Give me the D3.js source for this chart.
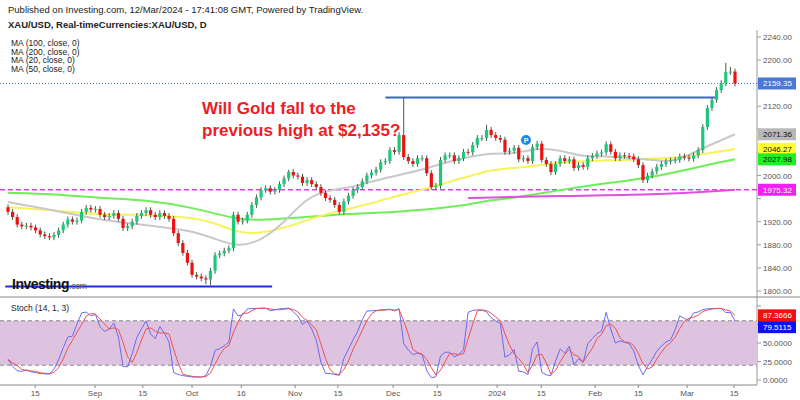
<!DOCTYPE html>
<html><head><meta charset="utf-8">
<script src="https://cdn.jsdelivr.net/npm/d3@7"></script>
<style>body{margin:0;background:#fff}svg{font-family:"Liberation Sans",Arial,sans-serif}</style>
</head><body><svg id="c" width="800" height="400"></svg>
<script>
const firstOpen = 1945;
const closes = [1937,1928,1915,1912,1913,1910,1905,1898,1895,1893,1897,1905,
1915,1924,1920,1922,1937,1944,1941,1942,
1932,1928,1930,1935,1925,1909,1912,1920,1930,1935,1940,1932,1928,1935,1930,1925,
1900,1883,1866,1849,1828,1825,1822,1820,1835,1862,1865,1870,1874,1932,
1920,1922,1932,1949,1962,1975,1978,1972,1975,1985,
1995,2006,2000,1998,1987,1992,1985,1980,1970,1961,
1958,1949,1937,1955,1965,1975,1980,1990,2000,2005,
2010,2023,2025,2044,2041,2070,2032,2025,2020,2030,
2030,2004,1980,1982,2027,2035,2035,2025,2030,2041,
2040,2053,2065,2065,2079,2070,2065,2062,2041,2043,
2048,2028,2030,2025,2049,2055,2027,2020,2006,2020,
2030,2025,2028,2013,2018,2015,2030,2034,2038,2040,
2054,2041,2030,2035,2034,2033,2028,2018,1992,2000,
2007,2015,2020,2024,2026,2027,2033,2031,2029,2035,
2044,2084,2117,2131,2148,2160,2179,2180,2159.35];
const highSpikes = [[86,2135],[156,2195],[157,2188],[61,2010],[104,2088]];
const lowSpikes = [[44,1810],[43,1812]];
const ma20 = [[0,1954],[10,1940],[20,1923],[30,1914],[40,1905],[45,1890],[50,1876],[55,1887],[60,1918],[65,1963],[70,1975],[75,1980],[80,1992],[85,2001],[90,2010],[95,2022],[100,2032],[105,2039],[110,2037],[115,2048],[120,2044],[125,2032],[130,2034],[135,2030],[140,2027],[145,2023],[150,2044],[155,2061],[158,2071.36]];
const ma50 = [[0,1945],[10,1940],[20,1932],[30,1932],[40,1928],[45,1918],[50,1900],[55,1900],[60,1909],[65,1923],[70,1935],[75,1944],[80,1954],[85,1966],[90,1975],[95,1987],[100,1998],[105,2010],[110,2013],[115,2017],[120,2023],[125,2025],[130,2026],[135,2027],[140,2030],[145,2030],[150,2036],[155,2042],[158,2046.27]];
const ma100 = [[0,1970],[10,1968],[20,1961],[30,1958],[40,1945],[50,1923],[55,1923],[60,1925],[70,1932],[80,1935],[90,1940],[100,1949],[105,1958],[110,1961],[120,1975],[130,1987],[140,1996],[150,2015],[158,2027.98]];
const ma200 = [[100,1961],[120,1965],[140,1966],[158,1975.32]];
const priceTicks = [1800,1840,1880,1920,1960,2000,2040,2080,2120,2160,2200,2240];
const stochTicks = [0,25,50,75,100];
const dateLabels = ["15","Sep","15","Oct","16","Nov","15","Dec","15","2024","15","Feb","15","Mar","15"];
const dateIdx = [5.9,18.9,29.3,40,50.7,62.4,71.7,83.7,93.3,106.3,115.9,127.6,137,147.6,157.8];
const maLabels = ["MA (100, close, 0)","MA (200, close, 0)","MA (20, close, 0)","MA (50, close, 0)"];

const svg = d3.select("#c");
const n = closes.length;
const x = d3.scaleLinear().domain([0,158]).range([8,735]);
const y = d3.scaleLinear().domain([1800,2200]).range([291,60]);
const ys = d3.scaleLinear().domain([0,100]).range([380,306]);

const candles = closes.map((c,i)=>{
  const o = i===0?firstOpen:closes[i-1];
  let h = Math.max(o,c)+5, l = Math.min(o,c)-5;
  highSpikes.forEach(s=>{if(s[0]===i)h=s[1];});
  lowSpikes.forEach(s=>{if(s[0]===i)l=s[1];});
  return {i,o,c,h,l};
});
const K = candles.map((d,i)=>{
  const w = candles.slice(Math.max(0,i-13),i+1);
  const hh = d3.max(w,e=>e.h), ll = d3.min(w,e=>e.l);
  return 100*(d.c-ll)/(hh-ll);
});
const D = K.map((v,i)=>d3.mean(K.slice(Math.max(0,i-2),i+1)));

const badgesP = [[2159.35,"#4a78d8","#fff"],[2071.36,"#b8b8b8","#111"],[2046.27,"#ffff30","#111"],[2027.98,"#20f020","#111"],[1975.32,"#f020f0","#fff"]];
const badgeYs = badgesP.map(b=>y(b[0]));
const sBadges = [[ys(D[n-1]),"#f01010",D[n-1]],[ys(K[n-1])+6,"#1010f0",K[n-1]]];
const clash = (yy,list)=>list.some(b=>Math.abs(b-yy)<10);

svg.append("text").attr("x",8).attr("y",13).attr("font-size",9.5).attr("fill","#222").text("Published on Investing.com, 12/Mar/2024 - 17:41:08 GMT, Powered by TradingView.");
svg.append("text").attr("x",8).attr("y",28).attr("font-size",9.5).attr("font-weight","bold").attr("fill","#222").text("XAU/USD, Real-timeCurrencies:XAU/USD, D");
maLabels.forEach((t,k)=>svg.append("text").attr("x",11).attr("y",46+k*8.6).attr("font-size",8.5).attr("fill","#222").text(t));

svg.append("line").attr("x1",757).attr("x2",757).attr("y1",30).attr("y2",385).attr("stroke","#999");
svg.append("line").attr("x1",0).attr("x2",800).attr("y1",297).attr("y2",297).attr("stroke","#888");
svg.append("line").attr("x1",0).attr("x2",757).attr("y1",385).attr("y2",385).attr("stroke","#888");

priceTicks.forEach(t=>{
  svg.append("line").attr("x1",757).attr("x2",761).attr("y1",y(t)).attr("y2",y(t)).attr("stroke","#999");
  if(!clash(y(t),badgeYs)) svg.append("text").attr("x",763).attr("y",y(t)+3).attr("font-size",8).attr("fill","#555").text(t.toFixed(2));
});

svg.append("rect").attr("x",0).attr("y",ys(80)).attr("width",757).attr("height",ys(20)-ys(80)).attr("fill","#dec3e0");
[20,80].forEach(v=>svg.append("line").attr("x1",0).attr("x2",757).attr("y1",ys(v)).attr("y2",ys(v)).attr("stroke","#888").attr("stroke-dasharray","4,3"));
stochTicks.forEach(t=>{
  svg.append("line").attr("x1",757).attr("x2",761).attr("y1",ys(t)).attr("y2",ys(t)).attr("stroke","#999");
  if(!clash(ys(t),sBadges.map(b=>b[0]))) svg.append("text").attr("x",763).attr("y",ys(t)+3).attr("font-size",8).attr("fill","#555").text(t.toFixed(4));
});
svg.append("text").attr("x",11).attr("y",311).attr("font-size",8.5).attr("fill","#222").text("Stoch (14, 1, 3)");

dateIdx.forEach((d,k)=>{
  svg.append("line").attr("x1",x(d)).attr("x2",x(d)).attr("y1",385).attr("y2",388).attr("stroke","#888");
  svg.append("text").attr("x",x(d)).attr("y",396).attr("text-anchor","middle").attr("font-size",8).attr("fill","#555").text(dateLabels[k]);
});

svg.append("line").attr("x1",0).attr("x2",757).attr("y1",y(1975.32)).attr("y2",y(1975.32)).attr("stroke","#e040e0").attr("stroke-width",1.5).attr("stroke-dasharray","5,3");
svg.append("line").attr("x1",0).attr("x2",757).attr("y1",y(2159.35)).attr("y2",y(2159.35)).attr("stroke","#4a70c8").attr("stroke-dasharray","1,2");
svg.append("line").attr("x1",x(82)).attr("x2",x(154)).attr("y1",y(2135)).attr("y2",y(2135)).attr("stroke","#3a66c8").attr("stroke-width",2);
svg.append("line").attr("x1",x(-0.6)).attr("x2",x(57.4)).attr("y1",y(1808)).attr("y2",y(1808)).attr("stroke","#1a2ee0").attr("stroke-width",2);

const line = d3.line().x(d=>x(d[0])).y(d=>y(d[1])).curve(d3.curveBasis);
[[ma100,"#6fee5a"],[ma50,"#f6f25a"],[ma20,"#c8c8c8"],[ma200,"#e050e0"]].forEach(([d,c])=>
  svg.append("path").attr("d",line(d)).attr("fill","none").attr("stroke",c).attr("stroke-width",2));

const g = svg.append("g");
candles.forEach(d=>{
  const up = d.c>=d.o, col = up?"#1ec87a":"#f01010";
  g.append("line").attr("x1",x(d.i)).attr("x2",x(d.i)).attr("y1",y(d.h)).attr("y2",y(d.l)).attr("stroke","#4a5a4a").attr("stroke-width",1);
  const top = y(Math.max(d.o,d.c)), bot = y(Math.min(d.o,d.c));
  g.append("rect").attr("x",x(d.i)-1.6).attr("y",top).attr("width",3.2).attr("height",Math.max(1,bot-top)).attr("fill",col);
});

const sl = d3.line().x((d,i)=>x(i)).y(d=>ys(d));
svg.append("path").attr("d",sl(K)).attr("fill","none").attr("stroke","#6a6af0").attr("stroke-width",1);
svg.append("path").attr("d",sl(D)).attr("fill","none").attr("stroke","#f05050").attr("stroke-width",1);

svg.append("text").attr("x",202).attr("y",114).attr("font-size",17).attr("font-weight","bold").attr("fill","#ee1c25").text("Will Gold fall to the");
svg.append("text").attr("x",202).attr("y",136).attr("font-size",17).attr("font-weight","bold").attr("fill","#ee1c25").text("previous high at $2,135?");
svg.append("circle").attr("cx",526).attr("cy",140).attr("r",5).attr("fill","#1e88e5");
svg.append("text").attr("x",526).attr("y",143).attr("text-anchor","middle").attr("font-size",7).attr("font-weight","bold").attr("fill","#fff").text("P");
const lg = svg.append("text").attr("x",12).attr("y",289).attr("font-size",14).attr("font-weight","bold").attr("fill","#111").attr("letter-spacing","-0.5");
lg.append("tspan").text("Investing");
lg.append("tspan").attr("font-size",9).attr("font-weight","normal").attr("fill","#555").text(".com");

function badge(yy,bg,fg,txt){
  svg.append("rect").attr("x",758).attr("y",yy-6).attr("width",38).attr("height",12).attr("fill",bg);
  svg.append("text").attr("x",763).attr("y",yy+3).attr("font-size",8).attr("fill",fg).text(txt);
}
badgesP.forEach(b=>badge(y(b[0]),b[1],b[2],b[0].toFixed(2)));
sBadges.forEach(b=>badge(b[0],b[1],"#fff",b[2].toFixed(4)));
</script></body></html>
